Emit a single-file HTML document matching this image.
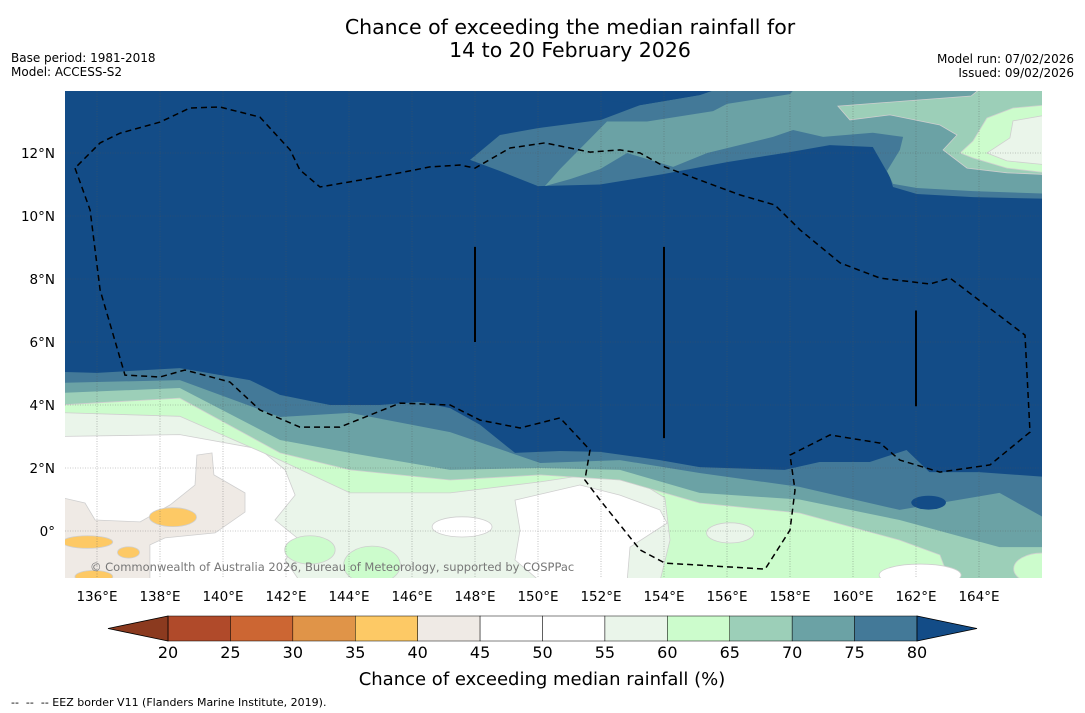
<!DOCTYPE html>
<html><head><meta charset="utf-8"><style>
html,body{margin:0;padding:0;background:#fff}
svg{display:block;font-family:"DejaVu Sans","Liberation Sans",sans-serif}
</style></head><body>
<svg id="c" width="1085" height="713" viewBox="0 0 1085 713" xmlns="http://www.w3.org/2000/svg">
<text x="570" y="34" font-size="20.5" text-anchor="middle">Chance of exceeding the median rainfall for</text>
<text x="570" y="57" font-size="20.5" text-anchor="middle">14 to 20 February 2026</text>
<text x="11" y="62" font-size="12">Base period: 1981-2018</text>
<text x="11" y="76" font-size="12">Model: ACCESS-S2</text>
<text x="1074" y="63" font-size="12" text-anchor="end">Model run: 07/02/2026</text>
<text x="1074" y="77" font-size="12" text-anchor="end">Issued: 09/02/2026</text>
<defs><clipPath id="mc"><rect x="65" y="91" width="977" height="487"/></clipPath></defs>
<g id="map" clip-path="url(#mc)"><rect x="65" y="91" width="977" height="487" fill="#fff"/></g>
<g id="axes"></g>
<g id="cbar"></g>
<text x="542" y="685" font-size="18" text-anchor="middle">Chance of exceeding median rainfall (%)</text>
<text x="11" y="706" font-size="11" xml:space="preserve">--  --  -- EEZ border V11 (Flanders Marine Institute, 2019).</text>
</svg>
<script>
// ---- data ----
const lonTicks=[136,138,140,142,144,146,148,150,152,154,156,158,160,162,164];
const latTicks=[0,2,4,6,8,10,12];
const latLabels=["0°","2°N","4°N","6°N","8°N","10°N","12°N"];
const cbLevels=[20,25,30,35,40,45,50,55,60,65,70,75,80];
const cbColors=["#b04a2a","#cc6633","#e09448","#fdc965","#efeae5","#ffffff","#ffffff","#eaf5ea","#ccfccc","#9ccfb8","#6ba2a5","#437998"];
const underColor="#8b3a1f", overColor="#134c87";
const b55=[[134.8,3.0],[138.63,3.06],[141.17,2.6],[141.97,1.94],[142.29,1.14],[141.65,0.35],[142.44,-0.29],[141.97,-0.92],[142.44,-1.6]];
const b60=[[134.8,3.76],[138.63,3.64],[141.81,2.25],[144.03,1.21],[147.21,1.21],[150.07,1.56],[152.6,1.94],[154.03,1.05],[154.19,-0.29],[153.87,-1.6]];
const b65=[[134.8,4.0],[138.63,4.22],[141.81,2.48],[144.03,1.94],[147.21,1.62],[150.07,1.78],[152.6,1.62],[155.13,0.89],[158.3,0.57],[161.48,-0.29],[162.76,-0.76],[163.08,-1.6]];
const b70=[[134.8,4.38],[138.63,4.54],[141.81,2.89],[144.03,2.48],[147.21,1.94],[150.07,2.0],[152.6,1.94],[155.13,1.21],[158.3,1.0],[161.48,0.35],[164.65,-0.51],[166.2,-0.51]];
const b75=[[134.8,4.7],[138.63,4.79],[141.81,3.62],[144.03,3.75],[147.21,3.14],[150.07,2.16],[152.6,2.25],[155.13,1.84],[158.3,1.4],[161.48,0.67],[164.65,1.21],[166.2,0.35]];
const b80=[[134.8,5.05],[136,5.02],[138.63,5.17],[140.85,4.79],[141.81,4.32],[143.4,4.0],[144.98,4.0],[146.25,4.1],[147.21,3.9],[148.16,3.37],[149.27,2.48],[150.7,2.54],[151.97,2.51],[153.87,2.25],[155.13,2.03],[157.83,1.94],[158.94,2.19],[160.53,2.19],[161.7,2.57],[162.43,1.87],[164.0,1.87],[166.2,1.71]];
const p75=[[147.84,11.78],[148.79,12.57],[150,12.79],[152,13.05],[153.24,13.52],[155.14,13.84],[157.05,14.5],[166.5,14.5],[166.5,10.54],[163.81,10.6],[162.03,10.7],[161.27,10.92],[161.17,11.24],[160.63,12.19],[159.26,12.25],[158.0,12.03],[156.0,11.71],[153.97,11.33],[151.97,11.0],[150,10.95],[148.79,11.43]];
const p80top=[[150,14.5],[157.05,14.5],[155.14,13.84],[153.24,13.52],[152,13.7]];
const p70=[[150.22,10.95],[150.7,11.49],[152.19,13.0],[153.46,13.0],[155.56,13.33],[156.0,13.56],[158,13.87],[158.54,14.5],[166.5,14.5],[166.5,10.7],[163.81,10.79],[162.03,10.89],[161.27,11.02],[161.08,11.43],[161.49,12.1],[161.59,12.51],[160.63,12.64],[159.05,12.51],[158.1,12.73],[157.46,12.51],[155.37,12.0],[154.29,11.56],[152.83,12.0],[151.97,11.49],[151.02,11.17]];
const p65=[[159.52,13.49],[161.65,13.65],[163.75,13.81],[164.6,14.5],[166.5,14.5],[166.5,11.3],[164.89,11.37],[163.62,11.52],[162.86,12.1],[163.3,12.57],[162.76,12.89],[161.17,13.21],[159.9,13.05]];
const p60=[[164.25,13.11],[165.08,13.43],[166.5,13.56],[166.5,11.33],[164.89,11.52],[163.81,11.84],[163.4,12.0],[163.81,12.38]];
const p55=[[165.08,13.02],[166.5,13.27],[166.5,11.59],[164.89,11.75],[164.25,12.0],[164.98,12.48]];
const beige=[[134.8,1.08],[135.62,0.89],[135.94,0.35],[137.37,0.29],[138.32,0.83],[139.11,1.46],[139.17,2.41],[139.65,2.48],[139.71,1.78],[140.7,1.21],[140.7,0.6],[139.75,-0.06],[138.16,-0.22],[137.68,-0.44],[137.68,-1.6],[134.8,-1.6]];
const whiteCenter=[[149.27,0.98],[151.33,1.46],[152.6,1.14],[153.87,0.67],[154.1,0.25],[152.92,-0.51],[152.83,-1.6],[150.07,-1.6],[149.27,-0.92],[149.43,0.03]];
const blobs=[[147.59,0.13,0.95,0.32,50],[162.13,-1.4,1.3,0.35,50],[156.1,-0.06,0.75,0.32,55],[142.76,-0.6,0.8,0.45,60],[144.73,-1.08,0.9,0.6,60],[166,-1.2,0.9,0.5,60],[157.35,13.0,0.35,0.12,65],[162.4,0.9,0.55,0.22,80],[138.41,0.44,0.75,0.3,35],[135.7,-0.35,0.8,0.2,35],[137.0,-0.68,0.35,0.18,35],[135.9,-1.45,0.6,0.2,35]];
const eez=[[135.30,11.52],[135.78,10.19],[136.10,7.65],[136.89,4.95],[138.0,4.89],[138.79,5.11],[140.22,4.73],[141.17,3.84],[142.44,3.30],[143.71,3.30],[145.62,4.06],[147.21,4.0],[148.16,3.52],[149.43,3.27],[150.70,3.59],[151.65,2.57],[151.49,1.62],[151.97,0.98],[153.24,-0.60],[154.03,-1.02],[157.21,-1.21],[158.0,0.03],[158.16,1.30],[158.0,2.41],[159.27,3.05],[160.86,2.79],[161.49,2.25],[162.76,1.87],[164.35,2.10],[165.62,3.14],[165.46,6.22],[163.08,8.03],[162.44,7.84],[160.86,8.03],[159.59,8.51],[158.32,9.56],[157.52,10.35],[156.41,10.67],[155.14,11.14],[154.03,11.56],[153.24,12.0],[152.60,12.10],[151.65,12.03],[150.22,12.32],[149.11,12.16],[148.0,11.52],[147.52,11.62],[146.57,11.56],[145.62,11.37],[144.35,11.14],[143.08,10.92],[142.44,11.46],[142.13,12.10],[141.17,13.14],[139.90,13.46],[138.95,13.43],[138.0,12.98],[136.73,12.63],[136.10,12.32],[135.30,11.52]];
const vlines=[[148,9.02,6.0],[154,9.02,2.95],[162,7.0,3.96]];
// ---- scales ----
const X=lon=>65.5+(lon-135)*31.5;
const Y=lat=>531-lat*31.5;
const CB=v=>168+(v-20)*(917-168)/60;
const NS="http://www.w3.org/2000/svg";
const lvlColor={35:"#fdc965",40:"#efeae5",50:"#ffffff",55:"#eaf5ea",60:"#ccfccc",65:"#9ccfb8",70:"#6ba2a5",75:"#437998",80:"#134c87"};
function mk(tag,attrs,parent){const e=document.createElementNS(NS,tag);for(const k in attrs)e.setAttribute(k,attrs[k]);parent.appendChild(e);return e;}
const map=document.getElementById('map');
function pts(arr){return arr.map(p=>X(p[0]).toFixed(1)+','+Y(p[1]).toFixed(1)).join(' ');}
function poly(arr,lvl,name){const e=mk('polygon',{points:pts(arr),fill:lvlColor[lvl],stroke:lvl<=65?'#cfcfcf':'none','stroke-width':0.8},map);

return e;}
function band(b,lvl,name){const last=b[b.length-1];const arr=[[134,15],...b,[167,last[1]],[167,15]];poly(arr,lvl,name);}
band(b55,55,'region-55-60');band(b60,60,'region-60-65');band(b65,65,'region-65-70');band(b70,70,'region-70-75');band(b75,75,'region-75-80');band(b80,80,'region-above-80');
poly(beige,40,'region-40-45');poly(whiteCenter,50,'region-45-55-center');
blobs.forEach(b=>{const e=mk('ellipse',{cx:X(b[0]),cy:Y(b[1]),rx:b[2]*31.5,ry:b[3]*31.5,fill:lvlColor[b[4]],stroke:b[4]<=65?'#cfcfcf':'none','stroke-width':0.8},map);

});
poly(p75,75,'north-patch-75-80');poly(p80top,80,'north-patch-above-80');poly(p70,70,'north-patch-70-75');poly(p65,65,'north-patch-65-70');poly(p60,60,'north-patch-60-65');poly(p55,55,'north-patch-55-60');
lonTicks.forEach(l=>{const e=mk('line',{x1:X(l),x2:X(l),y1:91,y2:578,stroke:'#555','stroke-width':0.6,'stroke-dasharray':'1,1.5',opacity:0.6},map);

});
latTicks.forEach(l=>{const e=mk('line',{x1:65,x2:1042,y1:Y(l),y2:Y(l),stroke:'#555','stroke-width':0.6,'stroke-dasharray':'1,1.5',opacity:0.6},map);

});
const ez=mk('polyline',{points:pts(eez),fill:'none',stroke:'#000','stroke-width':1.5,'stroke-dasharray':'6,4'},map);


vlines.forEach(v=>{const e=mk('line',{x1:X(v[0]),x2:X(v[0]),y1:Y(v[1]),y2:Y(v[2]),stroke:'#000','stroke-width':2},map);

});
const cp=mk('text',{x:90,y:571,'font-size':11.5,fill:'#777'},map);cp.textContent='© Commonwealth of Australia 2026, Bureau of Meteorology, supported by COSPPac';


const ax=document.getElementById('axes');
lonTicks.forEach(l=>{const t=mk('text',{x:X(l),y:601,'font-size':13.5,'text-anchor':'middle'},ax);t.textContent=l+'°E';

});
latTicks.forEach((l,i)=>{const t=mk('text',{x:55,y:Y(l)+5,'font-size':13.5,'text-anchor':'end'},ax);t.textContent=latLabels[i];

});
const cb=document.getElementById('cbar');
for(let i=0;i<cbColors.length;i++){const r=mk('rect',{x:CB(cbLevels[i]),y:616,width:CB(cbLevels[i+1])-CB(cbLevels[i]),height:25,fill:cbColors[i],stroke:'#000','stroke-width':0.5},cb);

}
const tl=mk('polygon',{points:`108,628.5 ${CB(20)},616 ${CB(20)},641`,fill:underColor,stroke:'#000','stroke-width':0.8},cb);


const tr=mk('polygon',{points:`977,628.5 ${CB(80)},616 ${CB(80)},641`,fill:overColor,stroke:'#000','stroke-width':0.8},cb);


cbLevels.forEach(v=>{const t=mk('text',{x:CB(v),y:658,'font-size':16,'text-anchor':'middle'},cb);t.textContent=v;

});
</script>
</body></html>
